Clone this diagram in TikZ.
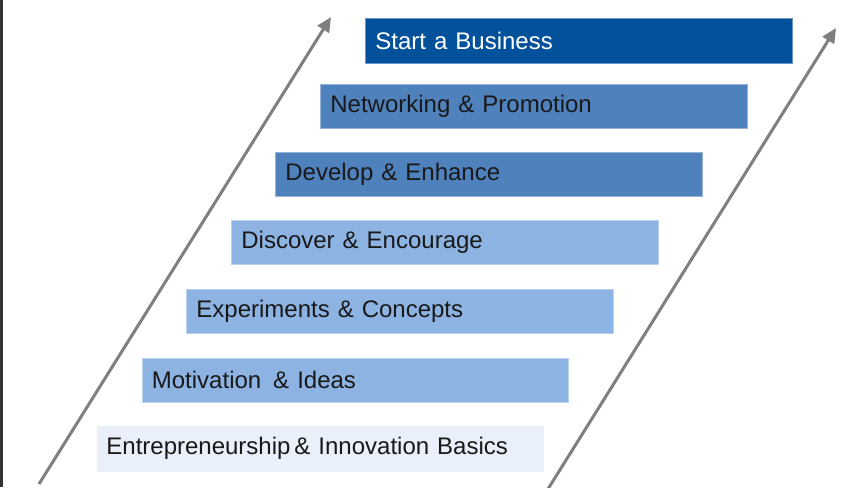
\documentclass[tikz,border=0pt]{standalone}
\usepackage{fontspec}
\setmainfont{Liberation Sans}
\usepackage{xcolor}
\usepackage{tikz}
\usetikzlibrary{arrows, arrows.meta}

\definecolor{darkstep}{HTML}{02519A}
\definecolor{midstep}{HTML}{4F81BD}
\definecolor{lightstep}{HTML}{8DB3E2}
\definecolor{palestep}{HTML}{E9F0FA}
\definecolor{rail}{HTML}{7F7F7F}

\begin{document}
\begin{tikzpicture}[x=0.75pt, y=-0.75pt,
    stair/.style={anchor=north west, minimum height=33pt, text width=305pt,
      inner xsep=7.5pt, align=left, font=\fontsize{18}{22}\selectfont,
      line width=0.6pt, text=black!90},
    railarrow/.style={-{Triangle[length=11pt, width=10pt]}, rail, line width=2.25pt}]
      \useasboundingbox (0, 0) rectangle (850, 487);
      \fill[black!80] (0, 0) rectangle (2.7, 487);

      % the two rails
      \coordinate (leftfoot) at (39, 484);
      \coordinate (lefttop) at (331, 17);
      \coordinate (rightfoot) at (548, 489);
      \coordinate (righttop) at (836, 28);
      \draw[railarrow] (leftfoot) -- (lefttop);
      \draw[railarrow] (rightfoot) -- (righttop);

      % the steps, bottom to top
      \node[stair, fill=palestep, draw=white, text width=321pt, minimum height=35pt] (basics) at (96, 425) {Entrepreneurship\,\& Innovation Basics};
      \node[stair, fill=lightstep, draw=lightstep!60!white] (motivation) at (141.5, 357.5) {Motivation \,\& Ideas};
      \node[stair, fill=lightstep, draw=lightstep!60!white] (experiment) at (186, 289) {Experiments \& Concepts};
      \node[stair, fill=lightstep, draw=lightstep!60!white] (discover) at (231, 220) {Discover \& Encourage};
      \node[stair, fill=midstep, draw=midstep!60!white] (develop) at (275, 152) {Develop \& Enhance};
      \node[stair, fill=midstep, draw=midstep!60!white] (network) at (320, 83.5) {Networking \& Promotion};
      \node[stair, fill=darkstep, draw=darkstep!60!white, text=white, minimum height=34pt] (start) at (365, 17.5) {Start a Business};
    \end{tikzpicture}
\end{document}
